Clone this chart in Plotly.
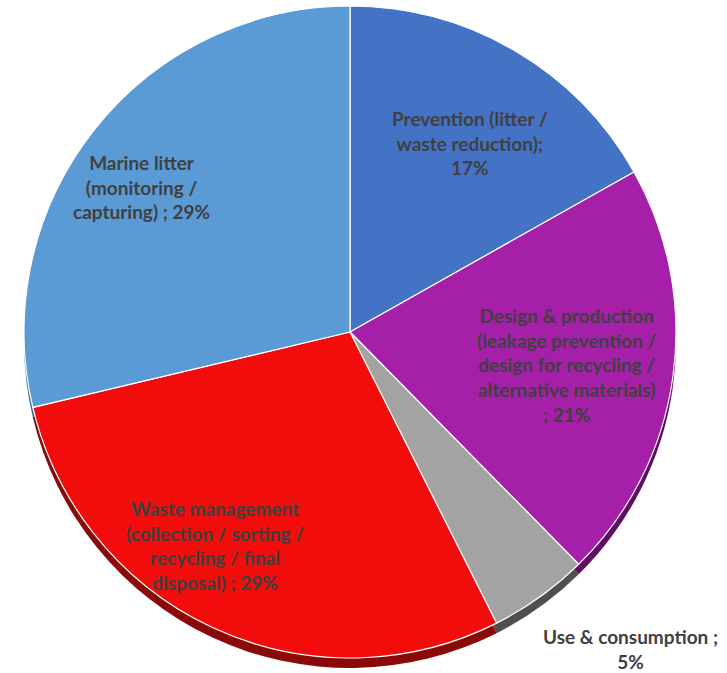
import plotly.graph_objects as go

categories = [
    "Prevention (litter /<br>waste reduction);",
    "Design & production<br>(leakage prevention /<br>design for recycling /<br>alternative materials)<br>;",
    "Use & consumption ;<br>",
    "Waste management<br>(collection / sorting /<br>recycling / final<br>disposal) ;",
    "Marine litter<br>(monitoring /<br>capturing) ;",
]
values = [17, 21, 5, 29, 29]
pct_labels = ["17%", "21%", "5%", "29%", "29%"]
colors = ["#4472C4", "#A61FA9", "#A3A3A3", "#F20C0C", "#5B9BD5"]
side_colors = ["#2F528F", "#5E0F61", "#4F4F4F", "#8A0A0A", "#3D6E9C"]
# label anchor points (paper coords) for each slice's text
label_x = [0.646, 0.780, 0.867, 0.296, 0.194]
label_y = [0.787, 0.457, 0.036, 0.189, 0.722]

cx0, cx1 = 0.0316, 0.9312
cy0, cy1 = 0.0223, 0.9911
shift = 10 / 673

fig = go.Figure()
# darker "side" pie, shifted down to mimic the 3D edge
fig.add_trace(go.Pie(
    values=values, labels=categories, sort=False, direction="clockwise",
    rotation=0, textinfo="none", hoverinfo="skip",
    marker=dict(colors=side_colors, line=dict(color="white", width=0)),
    domain=dict(x=[cx0, cx1], y=[cy0 - shift, cy1 - shift]),
    showlegend=False,
))
fig.add_trace(go.Pie(
    values=values, labels=categories, sort=False, direction="clockwise",
    rotation=0, textinfo="none",
    marker=dict(colors=colors, line=dict(color="white", width=1.2)),
    domain=dict(x=[cx0, cx1], y=[cy0, cy1]),
    showlegend=False,
))

for cat, pct, x, y in zip(categories, pct_labels, label_x, label_y):
    txt = cat + ("" if cat.endswith("<br>") else ("<br>" if cat.endswith(");") else " ")) + pct
    fig.add_annotation(
        x=x, y=y, xref="paper", yref="paper", showarrow=False,
        text="<b>" + txt + "</b>", align="center",
        font=dict(family="Lato", size=19, color="#404040"),
        xanchor="center", yanchor="middle",
    )

fig.update_layout(
    width=727, height=673,
    margin=dict(l=0, r=0, t=0, b=0),
    paper_bgcolor="white", plot_bgcolor="white",
)
fig.write_html("out.html")
